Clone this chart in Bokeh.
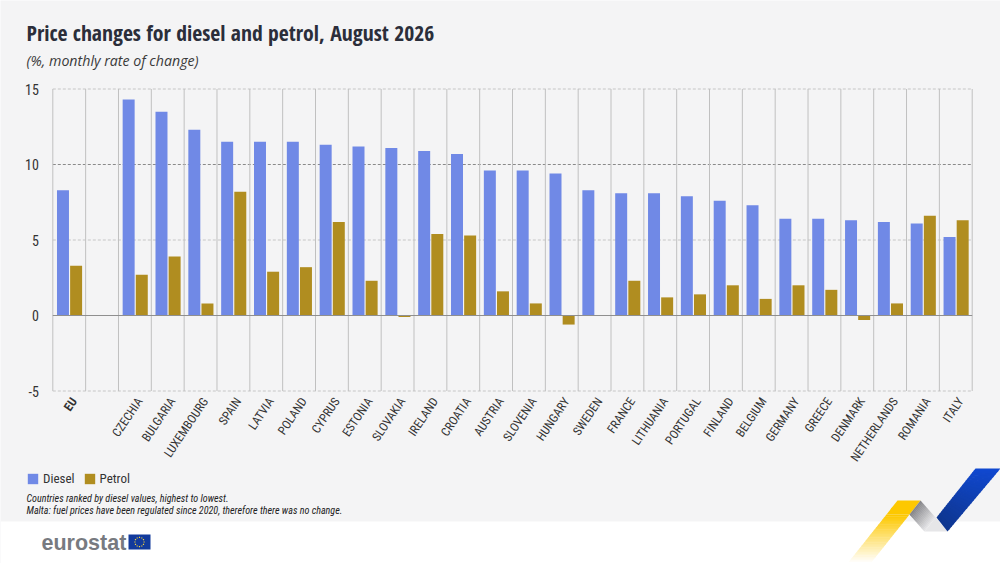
from math import radians, cos, sin, pi
from bokeh.embed import file_html
from bokeh.resources import INLINE
from bokeh.plotting import figure
from bokeh.models import ColumnDataSource, Range1d, Label, PolyAnnotation, Legend, LegendItem

countries = ["EU", " ", "CZECHIA", "BULGARIA", "LUXEMBOURG", "SPAIN", "LATVIA", "POLAND", "CYPRUS",
             "ESTONIA", "SLOVAKIA", "IRELAND", "CROATIA", "AUSTRIA", "SLOVENIA", "HUNGARY", "SWEDEN",
             "FRANCE", "LITHUANIA", "PORTUGAL", "FINLAND", "BELGIUM", "GERMANY", "GREECE", "DENMARK",
             "NETHERLANDS", "ROMANIA", "ITALY"]
nan = float("nan")
diesel = [8.3, nan, 14.3, 13.5, 12.3, 11.5, 11.5, 11.5, 11.3, 11.2, 11.1, 10.9, 10.7, 9.6, 9.6, 9.4,
          8.3, 8.1, 8.1, 7.9, 7.6, 7.3, 6.4, 6.4, 6.3, 6.2, 6.1, 5.2]
petrol = [3.3, nan, 2.7, 3.9, 0.8, 8.2, 2.9, 3.2, 6.2, 2.3, -0.1, 5.4, 5.3, 1.6, 0.8, -0.6,
          0.0, 2.3, 1.2, 1.4, 2.0, 1.1, 2.0, 1.7, -0.3, 0.8, 6.6, 6.3]
y_ticks = [-5, 0, 5, 10, 15]

W, H = 1000, 563
LEFT, RIGHT, TOP, BOTTOM = 52.3, 971.7, 88.5, 390.5   # plot box inside the page, in pixels
BG = "#f4f4f5"
COND = "Roboto Condensed"
TITLE_FONT = "Open Sans Condensed"
TXT = "#2b2e3a"

n = len(countries)
ux = (RIGHT - LEFT) / n
uy = (BOTTOM - TOP) / (y_ticks[-1] - y_ticks[0])

p = figure(width=W, height=H, output_backend="svg", toolbar_location=None,
           x_range=Range1d(-LEFT / ux, n + (W - RIGHT) / ux),
           y_range=Range1d(y_ticks[0] - (H - BOTTOM) / uy, y_ticks[-1] + TOP / uy),
           min_border=0, x_axis_location=None, y_axis_location=None,
           background_fill_color=BG, border_fill_color=BG, outline_line_color=None)
p.xgrid.visible = False
p.ygrid.visible = False


def poly(xs, ys, color, alpha=1.0, level="underlay"):
    p.add_layout(PolyAnnotation(xs=xs, ys=[H - v for v in ys], xs_units="screen", ys_units="screen",
                                fill_color=color, fill_alpha=alpha, line_color=None, level=level, editable=False))


poly([0, W, W, 0], [521, 521, H, H], "#ffffff")

# grid
for t in y_ticks:
    if t != 0:
        g = p.segment(x0=[0], x1=[n], y0=[t], y1=[t], line_color="#8a8a8a" if t == 10 else "#c6c6c6", line_width=1)
        g.glyph.line_dash = [3, 2]
edges = list(range(n + 1))
p.segment(x0=edges, x1=edges, y0=[y_ticks[0]] * (n + 1), y1=[y_ticks[-1]] * (n + 1),
          line_color="#c0c0c0", line_width=1)

pos = [i + 0.5 for i in range(n)]
src = ColumnDataSource(dict(x1=[v - 0.19 for v in pos], x2=[v + 0.21 for v in pos], diesel=diesel, petrol=petrol))
r1 = p.vbar(x="x1", top="diesel", bottom=0, width=0.365, source=src, fill_color="#7089e6", line_color=None)
r2 = p.vbar(x="x2", top="petrol", bottom=0, width=0.365, source=src, fill_color="#b08d20", line_color=None)
p.segment(x0=[0], x1=[n], y0=[0], y1=[0], line_color="#8f8f8f", line_width=1)

for t in y_ticks:
    p.add_layout(Label(x=0, y=t, text=str(t), x_offset=-14, text_align="right", text_baseline="middle",
                       text_font=COND, text_font_size="14px", text_color="#333333"))

for i, c in enumerate(countries):
    if c.strip():
        p.add_layout(Label(x=i + 0.5, y=y_ticks[0], text=c, x_offset=5, y_offset=-8, angle=radians(56),
                           text_align="right", text_baseline="middle", text_font=COND,
                           text_font_size="12.2px", text_color="#333333",
                           text_font_style="bold" if c == "EU" else "normal"))

leg = Legend(items=[LegendItem(label="Diesel", renderers=[r1]), LegendItem(label="Petrol", renderers=[r2])],
             orientation="horizontal", location=(26, 77), glyph_width=13, glyph_height=13, padding=0,
             margin=0, spacing=8, label_standoff=4, background_fill_alpha=0, border_line_color=None,
             label_text_font=COND, label_text_font_size="13px", label_text_color="#333333")
p.add_layout(leg, "center")


def text(x, ycenter, s, font=COND, size="14px", style="normal", color=TXT):
    p.add_layout(Label(x=x, y=H - ycenter, x_units="screen", y_units="screen", text=s, text_font=font,
                       text_font_size=size, text_font_style=style, text_color=color,
                       text_baseline="middle"))


text(26, 32, "Price changes for diesel and petrol, August 2026", font=TITLE_FONT, size="21.7px", style="bold")
text(26, 60, "(%, monthly rate of change)", font="Open Sans", size="14.2px", style="italic", color="#3a3a3a")
text(26, 498, "Countries ranked by diesel values, highest to lowest.", size="10.1px", style="italic", color="#222222")
text(26, 510, "Malta: fuel prices have been regulated since 2020, therefore there was no change.", size="10.1px",
     style="italic", color="#222222")


def mix(a, b, t):
    ca = [int(a[i:i + 2], 16) for i in (1, 3, 5)]
    cb = [int(b[i:i + 2], 16) for i in (1, 3, 5)]
    return "#%02x%02x%02x" % tuple(round(u + (v - u) * t) for u, v in zip(ca, cb))


def ribbon(tl, tr, br, bl, c0, c1, steps=24):
    """Gradient along a four-sided strip, built from thin slices."""
    for k in range(steps):
        a, b = k / steps, min(1, (k + 1.3) / steps)
        l0 = (tl[0] + (bl[0] - tl[0]) * a, tl[1] + (bl[1] - tl[1]) * a)
        r0 = (tr[0] + (br[0] - tr[0]) * a, tr[1] + (br[1] - tr[1]) * a)
        r1_ = (tr[0] + (br[0] - tr[0]) * b, tr[1] + (br[1] - tr[1]) * b)
        l1 = (tl[0] + (bl[0] - tl[0]) * b, tl[1] + (bl[1] - tl[1]) * b)
        poly([l0[0], r0[0], r1_[0], l1[0]], [l0[1], r0[1], r1_[1], l1[1]], mix(c0, c1, k / max(steps - 1, 1)))


ribbon((897, 500), (920, 500), (909, 514), (886, 514), "#fdc800", "#fdc800", steps=2)
ribbon((886, 514), (909, 514), (870, 563), (847, 563), "#fdc800", "#ffffff", steps=30)
ribbon((920, 500), (909, 514), (924, 531), (935, 517), "#86868a", "#e4e4e6", steps=16)
poly([935, 947, 924], [517, 531, 531], "#e6e6e8")
ribbon((975, 468), (1000, 468), (947, 531), (936, 517), "#1048d0", "#0e3690", steps=24)

text(41, 542, "eurostat", font="Liberation Sans", size="21.5px", style="bold", color="#777a80")
poly([128, 150, 150, 128], [534, 534, 549, 549], "#123a9c")
for k in range(12):
    a = 2 * pi * k / 12
    cx, cy = 139 + 4.6 * cos(a), 541.5 + 4.6 * sin(a)
    poly([cx - .6, cx + .6, cx + .6, cx - .6], [cy - .6, cy - .6, cy + .6, cy + .6], "#f5d33a")

open("out.html", "w").write(file_html(p, INLINE))
